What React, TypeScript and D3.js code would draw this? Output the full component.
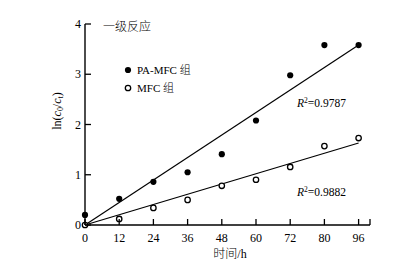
import React from "react";
import * as d3 from "d3";

const timeLabels = ["0", "12", "24", "36", "48", "60", "72", "80", "96"];
const timePos = [0, 12, 24, 36, 48, 60, 72, 84, 96];
const paMfc = [0.2, 0.52, 0.86, 1.05, 1.41, 2.08, 2.98, 3.58, 3.58];
const mfc = [0, 0.12, 0.34, 0.5, 0.78, 0.9, 1.155, 1.57, 1.73];
const fitSlopes = [0.0373, 0.017];
const yTicks = [0, 1, 2, 3, 4];

const W = 418, H = 270;
const serif = "'Liberation Serif', 'DejaVu Serif', serif";
const cjk = "'Liberation Serif', 'Noto Sans CJK SC', serif";

export default function App() {
  const x = d3.scaleLinear().domain([0, 100]).range([85, 370]);
  const y = d3.scaleLinear().domain([0, 4]).range([225, 24]);
  const line = d3.line<[number, number]>().x(d => x(d[0])).y(d => y(d[1]));
  const fit = (k: number) => line([[0, 0], [96, 96 * k]]) || "";
  return (
    <svg width={W} height={H} style={{ position: "absolute", left: 0, top: 0, background: "#fff" }}>
      <g fontFamily={serif} fontSize={12} fill="#000">
        <path d={fit(fitSlopes[0])} stroke="#000" strokeWidth={1.2} fill="none" />
        <path d={fit(fitSlopes[1])} stroke="#000" strokeWidth={1.2} fill="none" />
        {paMfc.map((v, i) => (
          <circle key={"p" + i} cx={x(timePos[i])} cy={y(v)} r={3.1} fill="#000" />
        ))}
        {mfc.map((v, i) => (
          <circle key={"m" + i} cx={x(timePos[i])} cy={y(v)} r={2.7} fill="#fff" stroke="#000" strokeWidth={1.3} />
        ))}
        <line x1={x(0)} x2={x(0)} y1={y(4)} y2={y(0)} stroke="#000" strokeWidth={1.4} />
        <line x1={x(0)} x2={x(100)} y1={y(0)} y2={y(0)} stroke="#000" strokeWidth={1.4} />
        {yTicks.map(t => (
          <g key={"y" + t}>
            <line x1={x(0)} x2={x(0) + 6} y1={y(t)} y2={y(t)} stroke="#000" strokeWidth={1.3} />
            <text x={x(0) - 4} y={y(t) + 4} textAnchor="end">{t}</text>
          </g>
        ))}
        {timePos.map((t, i) => (
          <g key={"x" + i}>
            <line x1={x(t)} x2={x(t)} y1={y(0)} y2={y(0) - 6} stroke="#000" strokeWidth={1.3} />
            <text x={x(t)} y={y(0) + 17} textAnchor="middle">{timeLabels[i]}</text>
          </g>
        ))}
        <line x1={x(100)} x2={x(100)} y1={y(0)} y2={y(0) - 6} stroke="#000" strokeWidth={1.3} />
        <text x={103} y={31} fontFamily={cjk} fontWeight={300}>一级反应</text>
        <circle cx={128} cy={70} r={3.1} fill="#000" />
        <text x={137} y={74} fontFamily={cjk} fontSize={11} fontWeight={300}>PA-MFC 组</text>
        <circle cx={128} cy={88} r={2.7} fill="#fff" stroke="#000" strokeWidth={1.3} />
        <text x={137} y={92} fontFamily={cjk} fontSize={11} fontWeight={300}>MFC 组</text>
        <text x={297} y={107} fontSize={11.5}>
          <tspan fontStyle="italic">R</tspan>
          <tspan fontSize={7.5} dy={-4}>2</tspan>
          <tspan dy={4}>=0.9787</tspan>
        </text>
        <text x={297} y={196} fontSize={11.5}>
          <tspan fontStyle="italic">R</tspan>
          <tspan fontSize={7.5} dy={-4}>2</tspan>
          <tspan dy={4}>=0.9882</tspan>
        </text>
        <text x={230} y={258} textAnchor="middle" fontFamily={cjk} fontWeight={300}>时间/h</text>
        <text transform="translate(61,111) rotate(-90)" textAnchor="middle" fontSize={12}>
          <tspan>ln(</tspan>
          <tspan fontStyle="italic">c</tspan>
          <tspan fontSize={8} dy={2}>0</tspan>
          <tspan dy={-2}>/</tspan>
          <tspan fontStyle="italic">c</tspan>
          <tspan fontSize={8} dy={2}>t</tspan>
          <tspan dy={-2}>)</tspan>
        </text>
      </g>
    </svg>
  );
}
